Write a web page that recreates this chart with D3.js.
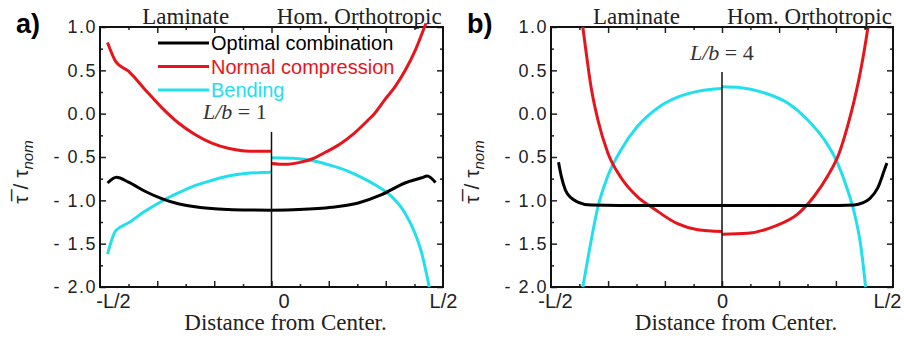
<!DOCTYPE html>
<html>
<head>
<meta charset="utf-8">
<script src="https://cdn.jsdelivr.net/npm/d3@7"></script>
<style>
  body { margin: 0; background: #fff; }
  svg { display: block; }
</style>
</head>
<body>
<div id="chart"></div>
<script>
// tick values / labels
var yMajor = [-2, -1.5, -1, -0.5, 0, 0.5, 1];
var yMinor = [-1.75, -1.25, -0.75, -0.25, 0.25, 0.75];
var xMajor = [-0.333, -0.167, 0, 0.167, 0.333];
var xMinor = [-0.417, -0.25, -0.083, 0.083, 0.25, 0.417];
var xLabelVals = [-0.5, 0, 0.5];
var xLabelNames = ["-L/2", "0", "L/2"];
var seriesNames = ["Optimal combination", "Normal compression", "Bending"];

// panel a) L/b = 1  -- [position, tau/tau_nom], laminate half and orthotropic half
var aOptLam = [[-0.478,-0.80],[-0.452,-0.735],[-0.417,-0.79],[-0.369,-0.895],[-0.32,-0.98],[-0.272,-1.04],[-0.223,-1.075],[-0.174,-1.095],[-0.126,-1.105],[-0.06,-1.112],[0,-1.115]];
var aOptHom = [[0,-1.115],[0.078,-1.107],[0.175,-1.08],[0.253,-1.03],[0.321,-0.935],[0.389,-0.80],[0.438,-0.74],[0.454,-0.72],[0.478,-0.795]];
var aNormLam = [[-0.478,0.82],[-0.454,0.60],[-0.417,0.49],[-0.369,0.28],[-0.32,0.07],[-0.272,-0.105],[-0.223,-0.24],[-0.174,-0.34],[-0.126,-0.40],[-0.077,-0.43],[0,-0.435]];
var aNormHom = [[0,-0.575],[0.04,-0.585],[0.08,-0.565],[0.12,-0.52],[0.16,-0.44],[0.2,-0.35],[0.24,-0.23],[0.28,-0.08],[0.30,0.0],[0.33,0.16],[0.36,0.31],[0.39,0.50],[0.42,0.74],[0.45,1.04]];
var aBendLam = [[-0.478,-1.62],[-0.454,-1.35],[-0.417,-1.26],[-0.369,-1.127],[-0.32,-1.01],[-0.272,-0.915],[-0.223,-0.83],[-0.174,-0.77],[-0.126,-0.72],[-0.077,-0.69],[0,-0.677]];
var aBendHom = [[0,-0.51],[0.078,-0.52],[0.127,-0.55],[0.175,-0.6],[0.224,-0.665],[0.265,-0.74],[0.302,-0.82],[0.35,-0.955],[0.389,-1.145],[0.418,-1.376],[0.438,-1.61],[0.452,-1.85],[0.46,-2.0]];

// panel b) L/b = 4
var bOptLam = [[-0.478,-0.56],[-0.47,-0.72],[-0.458,-0.88],[-0.44,-0.975],[-0.422,-1.02],[-0.383,-1.055],[-0.3,-1.06],[0,-1.06]];
var bOptHom = [[0,-1.06],[0.3,-1.06],[0.387,-1.053],[0.411,-1.03],[0.432,-0.98],[0.455,-0.86],[0.474,-0.66],[0.482,-0.57]];
var bNormLam = [[-0.407,1.0],[-0.397,0.70],[-0.383,0.31],[-0.363,-0.07],[-0.334,-0.45],[-0.295,-0.74],[-0.247,-0.96],[-0.198,-1.10],[-0.13,-1.27],[-0.071,-1.34],[0,-1.36]];
var bNormHom = [[0,-1.39],[0.075,-1.38],[0.153,-1.30],[0.221,-1.16],[0.27,-0.95],[0.309,-0.72],[0.343,-0.45],[0.367,-0.146],[0.387,0.16],[0.406,0.51],[0.421,0.85],[0.427,1.0]];
var bBendLam = [[-0.407,-2.0],[-0.388,-1.58],[-0.363,-1.08],[-0.334,-0.72],[-0.295,-0.415],[-0.247,-0.146],[-0.188,0.066],[-0.13,0.19],[-0.071,0.257],[0,0.29]];
var bBendHom = [[0,0.31],[0.055,0.30],[0.124,0.24],[0.192,0.123],[0.25,-0.07],[0.299,-0.30],[0.338,-0.57],[0.367,-0.877],[0.387,-1.145],[0.406,-1.53],[0.42,-2.0]];

var colors = ["#000000", "#e8141c", "#22dfee"];

var panels = [
  {tag: "a)", left: 100, right: 443, lb: "1", lbX: 203, lbY: 119, centerTop: -0.21, legend: true,
   labelShift: [13, 12, 0],
   series: [[aOptLam, aOptHom], [aNormLam, aNormHom], [aBendLam, aBendHom]]},
  {tag: "b)", left: 551, right: 893, lb: "4", lbX: 690, lbY: 60, centerTop: 0.48, legend: false,
   labelShift: [4, 0, -6],
   series: [[bOptLam, bOptHom], [bNormLam, bNormHom], [bBendLam, bBendHom]]}
];

var plotTop = 27, plotBottom = 287;

var svg = d3.select("#chart").append("svg")
  .attr("width", 904)
  .attr("height", 340);

svg.append("rect").attr("width", 904).attr("height", 340).attr("fill", "#fff");

var sans = "'Liberation Sans', Arial, sans-serif";
var serif = "'Liberation Serif', 'Times New Roman', serif";

panels.forEach(function(p) {
  var x = d3.scaleLinear().domain([-0.5, 0.5]).range([p.left, p.right]);
  var y = d3.scaleLinear().domain([-2, 1]).range([plotBottom, plotTop]);
  var w = p.right - p.left;

  var g = svg.append("g");

  // minor ticks, all four sides, pointing in
  g.append("g").attr("transform", "translate(0," + plotBottom + ")")
    .call(d3.axisBottom(x).tickValues(xMinor).tickSize(-3).tickFormat(""));
  g.append("g").attr("transform", "translate(0," + plotTop + ")")
    .call(d3.axisTop(x).tickValues(xMinor).tickSize(-3).tickFormat(""));
  g.append("g").attr("transform", "translate(" + p.left + ",0)")
    .call(d3.axisLeft(y).tickValues(yMinor).tickSize(-3).tickFormat(""));
  g.append("g").attr("transform", "translate(" + p.right + ",0)")
    .call(d3.axisRight(y).tickValues(yMinor).tickSize(-3).tickFormat(""));

  // major ticks
  g.append("g").attr("transform", "translate(0," + plotBottom + ")")
    .call(d3.axisBottom(x).tickValues(xMajor).tickSize(-6).tickFormat(""));
  g.append("g").attr("transform", "translate(0," + plotTop + ")")
    .call(d3.axisTop(x).tickValues(xMajor).tickSize(-6).tickFormat(""));
  g.append("g").attr("transform", "translate(" + p.right + ",0)")
    .call(d3.axisRight(y).tickValues(yMajor).tickSize(-6).tickFormat(""));

  // y axis with labels
  var yAxis = g.append("g").attr("transform", "translate(" + p.left + ",0)")
    .call(d3.axisLeft(y).tickValues(yMajor).tickSize(-6).tickPadding(3)
      .tickFormat(function(d) { return d < 0 ? "- " + Math.abs(d).toFixed(1) : d.toFixed(1); }));
  yAxis.selectAll("text")
    .style("font-family", sans).style("font-size", "18px")
    .style("letter-spacing", "1.5px").attr("fill", "#222");

  // x labels
  var xAxis = g.append("g").attr("transform", "translate(0," + plotBottom + ")")
    .call(d3.axisBottom(x).tickValues(xLabelVals).tickSize(0).tickPadding(7)
      .tickFormat(function(d, i) { return xLabelNames[i]; }));
  xAxis.selectAll("text")
    .attr("dx", function(d, i) { return p.labelShift[i]; })
    .style("font-family", sans).style("font-size", "20px").attr("fill", "#222");

  g.selectAll(".domain").remove();
  g.selectAll(".tick line").attr("stroke", "#222").attr("stroke-width", 1.5);

  // frame
  g.append("rect")
    .attr("x", p.left).attr("y", plotTop)
    .attr("width", w).attr("height", plotBottom - plotTop)
    .attr("fill", "none").attr("stroke", "#111").attr("stroke-width", 2);

  // curves
  var line = d3.line()
    .x(function(d) { return x(d[0]); })
    .y(function(d) { return y(d[1]); })
    .curve(d3.curveMonotoneX);

  // draw cyan under red under black
  [2, 1, 0].forEach(function(si) {
    p.series[si].forEach(function(half) {
      g.append("path")
        .datum(half)
        .attr("d", line)
        .attr("fill", "none")
        .attr("stroke", colors[si])
        .attr("stroke-width", 3)
        .attr("stroke-linejoin", "round");
    });
  });

  // center line
  g.append("line")
    .attr("x1", x(0)).attr("x2", x(0))
    .attr("y1", y(p.centerTop)).attr("y2", plotBottom)
    .attr("stroke", "#111").attr("stroke-width", 1.5);

  // L/b label
  var lbt = g.append("text").attr("x", p.lbX).attr("y", p.lbY)
    .style("font-family", serif).style("font-size", "22px").attr("fill", "#333");
  lbt.append("tspan").style("font-style", "italic").text("L/b");
  lbt.append("tspan").text(" = " + p.lb);

  // section titles
  g.append("text").attr("x", p.left + w * 0.25).attr("y", 24)
    .attr("text-anchor", "middle")
    .style("font-family", serif).style("font-size", "23px").attr("fill", "#222")
    .text("Laminate");
  g.append("text").attr("x", p.left + w * 0.75 + 2).attr("y", 24)
    .attr("text-anchor", "middle")
    .style("font-family", serif).style("font-size", "23px").attr("fill", "#222")
    .text("Hom. Orthotropic");

  // panel tag
  g.append("text").attr("x", p.left - 84).attr("y", 33)
    .style("font-family", sans).style("font-size", "27px").style("font-weight", "bold")
    .text(p.tag);

  // x axis title
  g.append("text").attr("x", x(0) + 14).attr("y", 330)
    .attr("text-anchor", "middle")
    .style("font-family", serif).style("font-size", "23px").attr("fill", "#222")
    .text("Distance from Center.");

  // y axis title
  var yt = g.append("text")
    .attr("transform", "translate(" + (p.left - 72) + "," + 172 + ") rotate(-90)")
    .attr("text-anchor", "middle")
    .style("font-family", sans).style("font-size", "21px").attr("fill", "#222");
  yt.append("tspan").text("\u03c4\u0305 / \u03c4");
  yt.append("tspan").attr("dy", 5).style("font-size", "15px").style("font-style", "italic").text("nom");

  // legend
  if (p.legend) {
    seriesNames.forEach(function(name, i) {
      var ly = 43 + i * 23.5;
      g.append("line")
        .attr("x1", 158).attr("x2", 209).attr("y1", ly).attr("y2", ly)
        .attr("stroke", colors[i]).attr("stroke-width", 3);
      g.append("text").attr("x", 211).attr("y", ly + 7)
        .style("font-family", sans).style("font-size", "20px")
        .attr("fill", colors[i])
        .text(name);
    });
  }
});
</script>
</body>
</html>
